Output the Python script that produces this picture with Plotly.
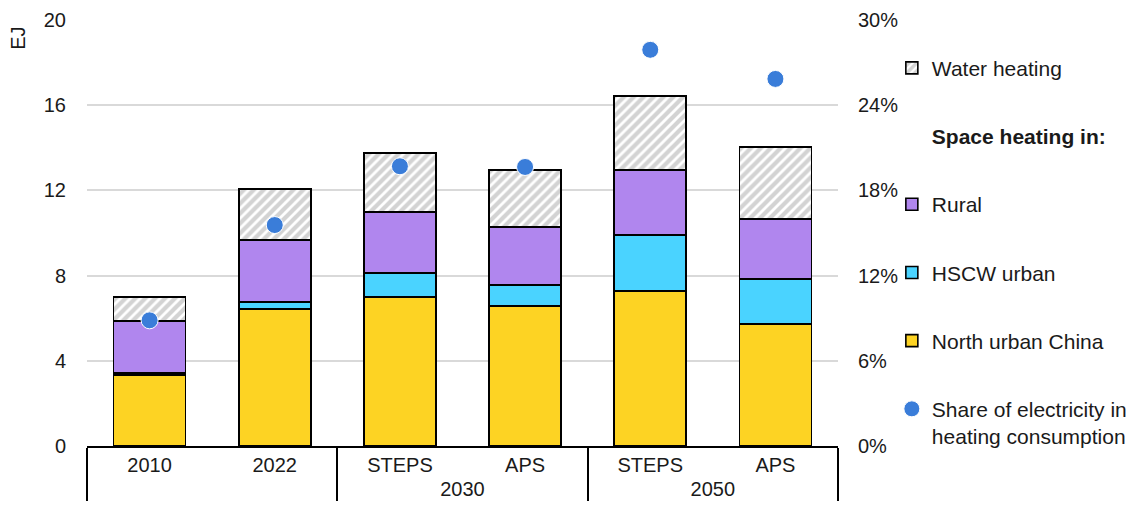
import plotly.graph_objects as go

outer = [" ", " ", "2030", "2030", "2050", "2050"]
inner = ["2010", "2022", "STEPS", "APS", "STEPS", "APS"]

north_urban = [3.32, 6.42, 7.00, 6.57, 7.28, 5.73]
hscw_urban = [0.10, 0.33, 1.12, 0.99, 2.62, 2.11]
rural = [2.46, 2.91, 2.87, 2.72, 3.06, 2.82]
water_heating = [1.11, 2.40, 2.77, 2.68, 3.47, 3.38]
elec_share = [0.0885, 0.1556, 0.197, 0.1965, 0.279, 0.2585]

y_ticks = [0, 4, 8, 12, 16, 20]
y2_ticks = [0, 0.06, 0.12, 0.18, 0.24, 0.30]

x = [outer, inner]
FONT = "Liberation Sans, Arial, sans-serif"
line = dict(color="#000000", width=1.6)
bw = 0.575

fig = go.Figure()
fig.add_trace(go.Bar(x=x, y=north_urban, name="North urban China", width=bw,
                     marker=dict(color="#FDD323", line=line), legendrank=5, legendgroup="n"))
fig.add_trace(go.Bar(x=x, y=hscw_urban, name="HSCW urban", width=bw,
                     marker=dict(color="#4AD3FF", line=line), legendrank=4, legendgroup="h"))
fig.add_trace(go.Bar(x=x, y=rural, name="Rural", width=bw,
                     marker=dict(color="#B086EE", line=line), legendrank=3, legendgroup="r"))
fig.add_trace(go.Bar(x=x, y=water_heating, name="Water heating", width=bw,
                     marker=dict(color="white", line=line,
                                 pattern=dict(shape="/", fgcolor="#A8A8A8", bgcolor="white",
                                              size=7, solidity=0.6)),
                     legendrank=1, legendgroup="w"))
fig.add_trace(go.Scatter(x=[[" "], ["2010"]], y=[None], mode="markers",
                         marker=dict(color="rgba(0,0,0,0)", size=1),
                         name="<b>Space heating in:</b>", legendrank=2, legendgroup="sp",
                         hoverinfo="skip"))
fig.add_trace(go.Scatter(x=x, y=elec_share, yaxis="y2", mode="markers",
                         name="Share of electricity in<br>heating consumption",
                         marker=dict(color="#3A7DD9", size=17, line=dict(color="white", width=1)),
                         legendrank=6, legendgroup="s"))

# page body has an 8px default margin, so the figure is sized to compensate
fig.update_layout(
    width=1126, height=499,
    margin=dict(l=79, r=296, t=12, b=61, autoexpand=False),
    barmode="stack",
    plot_bgcolor="white", paper_bgcolor="white",
    font=dict(family=FONT, size=20, color="#1a1a1a"),
    xaxis=dict(type="multicategory", showline=True, linecolor="#000000", linewidth=1.5,
               showdividers=True, dividercolor="#000000", dividerwidth=1.5,
               tickfont=dict(size=20), ticks="", automargin=False),
    yaxis=dict(range=[0, 20], tickvals=y_ticks, showgrid=True, gridcolor="#D9D9D9",
               gridwidth=1.5, zeroline=False, ticks="", ticklabelstandoff=20,
               tickfont=dict(size=20), automargin=False),
    yaxis2=dict(range=[0, 0.30], tickvals=y2_ticks, tickformat=".0%", overlaying="y",
                side="right", showgrid=False, zeroline=False, ticks="",
                ticklabelstandoff=19, tickfont=dict(size=20), automargin=False),
    legend=dict(x=1.0717, xanchor="left", y=0.935, yanchor="top", traceorder="grouped",
                tracegroupgap=37.9, font=dict(size=21), valign="top",
                bgcolor="rgba(0,0,0,0)"),
    annotations=[dict(text="EJ", x=-0.092, y=0.958, xref="paper", yref="paper",
                      textangle=-90, showarrow=False, font=dict(size=20),
                      xanchor="center", yanchor="middle")],
    bargap=0.4,
)

fig.write_html("out.html")
